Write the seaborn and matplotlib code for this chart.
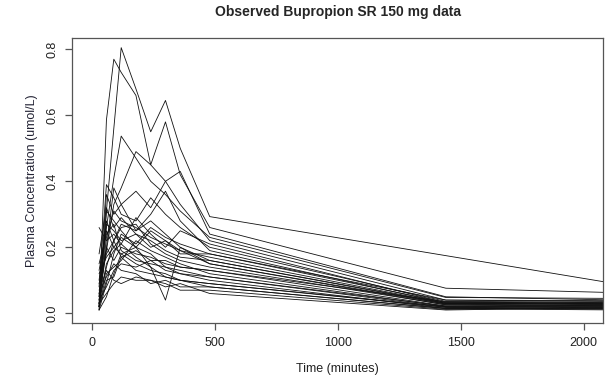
import numpy as np
import pandas as pd
import matplotlib
matplotlib.use("Agg")
import matplotlib.pyplot as plt
import seaborn as sns

nan = np.nan
times = [30, 60, 90, 120, 180, 240, 300, 360, 480, 1440, 2160]

s01 = [0.02, 0.31, 0.56, 0.805, 0.68, 0.55, 0.645, 0.50, 0.293, nan, 0.086]
s02 = [0.01, 0.586, 0.77, 0.73, 0.66, 0.45, 0.58, 0.42, 0.26, 0.076, 0.062]
s03 = [0.03, 0.26, 0.41, 0.537, 0.47, 0.40, 0.36, 0.31, 0.23, 0.048, 0.045]
s04 = [0.04, 0.19, 0.33, 0.38, 0.49, 0.45, 0.40, 0.33, 0.22, 0.040, 0.038]
s05 = [0.02, 0.36, 0.30, 0.33, 0.37, 0.32, 0.40, 0.43, 0.24, 0.050, 0.040]
s06 = [0.08, 0.39, 0.35, 0.30, 0.28, 0.35, 0.30, 0.26, 0.20, 0.036, 0.034]
s07 = [0.26, 0.22, 0.24, 0.21, 0.29, 0.24, 0.20, 0.25, 0.21, 0.032, 0.030]
s08 = [0.03, 0.14, 0.22, 0.27, 0.25, 0.30, 0.37, 0.28, 0.19, 0.030, 0.028]
s09 = [0.05, 0.31, 0.28, 0.25, 0.20, 0.14, 0.04, 0.20, 0.15, 0.025, 0.025]
s10 = [0.10, 0.27, 0.25, 0.22, 0.24, 0.22, 0.19, 0.17, 0.16, 0.028, 0.022]
s11 = [0.01, 0.09, 0.18, 0.24, 0.21, 0.26, 0.23, 0.21, 0.18, 0.033, 0.030]
s12 = [0.06, 0.20, 0.16, 0.20, 0.18, 0.17, 0.15, 0.14, 0.13, 0.022, 0.020]
s13 = [0.02, 0.12, 0.14, 0.16, 0.22, 0.19, 0.17, 0.15, 0.12, 0.020, 0.018]
s14 = [0.15, 0.24, 0.27, 0.19, 0.16, 0.15, 0.14, 0.12, 0.11, 0.018, 0.015]
s15 = [0.04, 0.08, 0.13, 0.15, 0.14, 0.16, 0.13, 0.12, 0.10, 0.015, 0.016]
s16 = [0.03, 0.06, 0.09, 0.11, 0.10, 0.10, 0.09, 0.07, 0.07, 0.012, 0.020]
s17 = [0.12, 0.17, 0.20, 0.18, 0.15, 0.13, 0.12, 0.10, 0.09, 0.020, 0.022]
s18 = [0.07, 0.13, 0.10, 0.09, 0.11, 0.10, 0.08, 0.09, 0.06, 0.010, 0.018]
s19 = [0.02, 0.23, 0.31, 0.28, 0.26, 0.23, 0.21, 0.19, 0.17, 0.030, 0.032]
s20 = [0.09, 0.18, 0.22, 0.26, 0.27, 0.21, 0.18, 0.16, 0.14, 0.026, 0.024]
s21 = [0.05, 0.28, 0.22, 0.17, 0.19, 0.16, 0.16, 0.14, 0.13, 0.035, 0.028]
s22 = [0.01, 0.05, 0.12, 0.18, 0.20, 0.18, 0.14, 0.13, 0.11, 0.022, 0.026]
s23 = [0.13, 0.25, 0.20, 0.23, 0.20, 0.25, 0.22, 0.19, 0.15, 0.028, 0.034]
s24 = [0.03, 0.15, 0.19, 0.21, 0.17, 0.14, 0.11, 0.10, 0.08, 0.015, 0.012]
s25 = [0.06, 0.11, 0.15, 0.13, 0.12, 0.09, 0.10, 0.08, 0.08, 0.014, 0.010]
s26 = [0.18, 0.32, 0.26, 0.29, 0.24, 0.20, 0.22, 0.18, 0.18, 0.040, 0.036]
s27 = [0.04, 0.20, 0.38, 0.33, 0.25, 0.28, 0.24, 0.20, 0.16, 0.030, 0.026]
s28 = [0.02, 0.10, 0.11, 0.17, 0.13, 0.12, 0.11, 0.10, 0.09, 0.018, 0.014]

subjects = [s01, s02, s03, s04, s05, s06, s07, s08, s09, s10, s11, s12, s13, s14,
            s15, s16, s17, s18, s19, s20, s21, s22, s23, s24, s25, s26, s27, s28]

x_ticks = [0, 500, 1000, 1500, 2000]
y_ticks = [0.0, 0.2, 0.4, 0.6, 0.8]
y_tick_labels = ["0.0", "0.2", "0.4", "0.6", "0.8"]

rows = []
for i, vals in enumerate(subjects):
    for t, v in zip(times, vals):
        rows.append({"subject": i + 1, "time": t, "conc": v})
df = pd.DataFrame(rows)

sns.set_style("white")
plt.rcParams["font.family"] = ["Liberation Sans", "DejaVu Sans"]

fig = plt.figure(figsize=(6.07, 3.79), dpi=100)
ax = fig.add_axes([72 / 607, 1 - 323.3 / 379, (603.3 - 72) / 607, (323.3 - 38.3) / 379])

sns.lineplot(data=df, x="time", y="conc", units="subject", estimator=None,
             color="#111111", linewidth=0.6, ax=ax, legend=False)

ax.set_xlim(-80, 2080)
ax.set_ylim(-0.0303, 0.8333)
ax.set_xticks(x_ticks)
ax.set_xticklabels([str(v) for v in x_ticks])
ax.set_yticks(y_ticks)
ax.set_yticklabels(y_tick_labels, rotation=90, va="center")

for sp in ax.spines.values():
    sp.set_visible(True)
    sp.set_color("#555555")
    sp.set_linewidth(0.9)

ax.tick_params(axis="both", direction="out", length=5, width=0.9, color="#555555",
               labelsize=9, labelcolor="#222222", pad=5, left=True, bottom=True)

ax.set_xlabel("Time (minutes)", fontsize=9, color="#222222", labelpad=10)
ax.set_ylabel("Plasma Concentration (umol/L)", fontsize=9, color="#222233", labelpad=6)
fig.suptitle("Observed Bupropion SR 150 mg data", fontsize=10, fontweight="bold",
             x=(72 + 603.3) / 2 / 607, y=1 - 5 / 379, va="top")

fig.savefig("out.png", dpi=100, facecolor="white")
